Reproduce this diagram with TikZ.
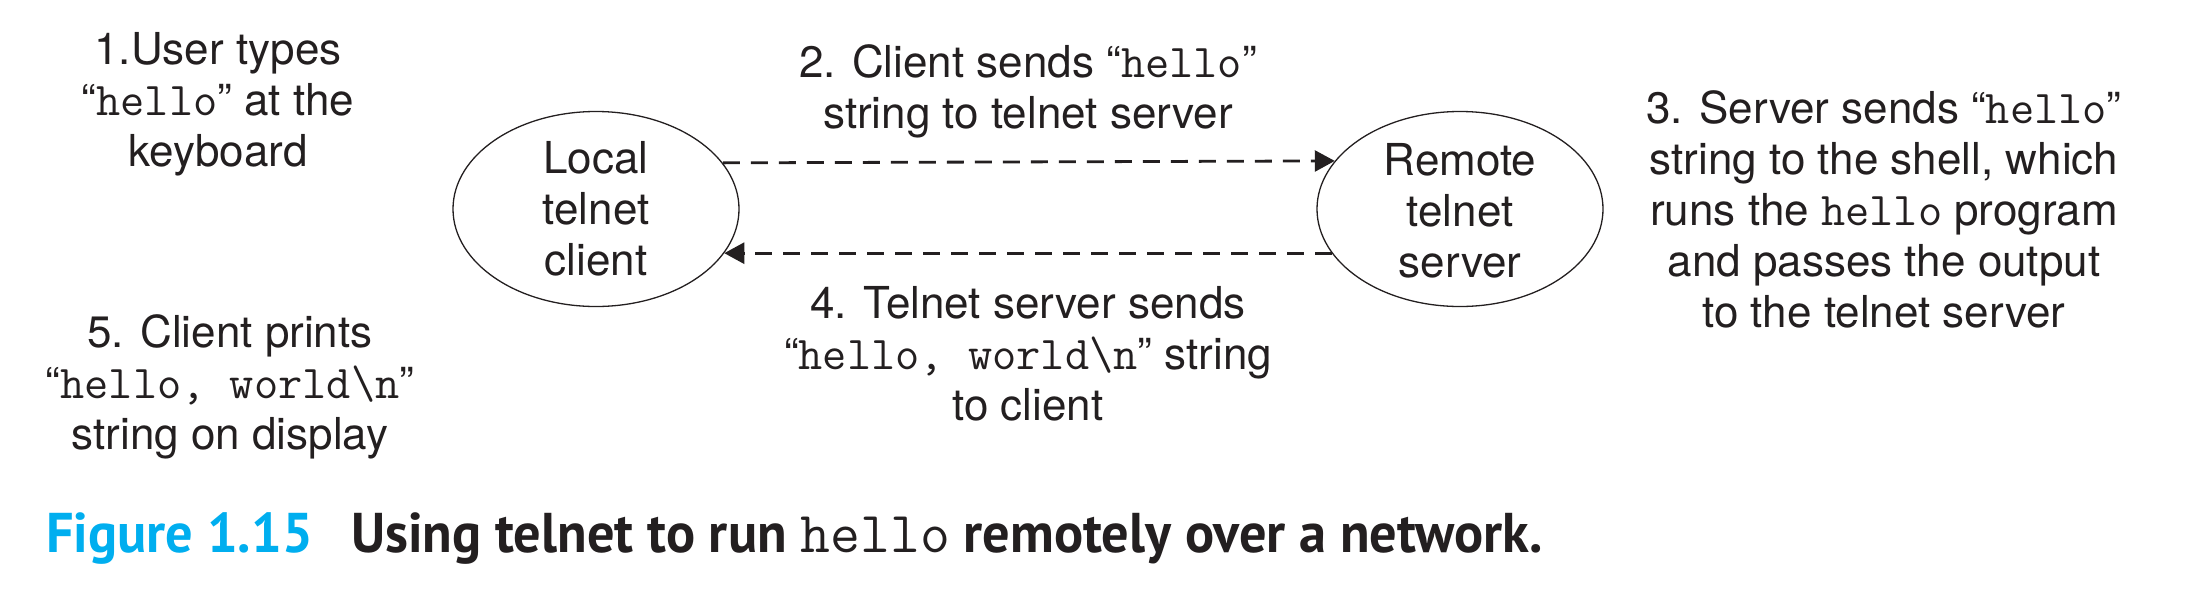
\documentclass[tikz,border=0pt]{standalone}
\usepackage{fontspec}
\setmainfont{TeX Gyre Heros}
\newfontfamily\capfont{PT Sans}[FakeStretch=0.97]
\usetikzlibrary{arrows.meta,shapes.geometric}
\definecolor{ink}{HTML}{231F20}
\definecolor{figcyan}{HTML}{00AEEF}
\newcommand\mono[1]{{\mdseries\ttfamily\fontsize{47}{51}\selectfont #1}}
\newcommand\capmono[1]{{\mdseries\ttfamily\fontsize{58}{60}\selectfont #1}}
\tikzset{
  lbl/.style={align=center, font=\fontsize{44}{51}\selectfont, text=ink, inner sep=0pt},
  host/.style={ellipse, draw=ink, line width=1.3pt, minimum width=286pt, minimum height=195pt, inner sep=0pt},
  msg/.style={draw=ink, line width=2.8pt, dash pattern=on 17pt off 11pt, -{Triangle[length=20pt,width=21pt]}},
  capt/.style={anchor=base west, inner sep=0pt, font=\capfont\bfseries\fontsize{56}{60}\selectfont},
}
\begin{document}
\begin{tikzpicture}[x=1pt,y=-1pt]
\useasboundingbox (0,0) rectangle (2188,592);
% hosts
\node[host] (L) at (596,209) {};
\node[lbl] (Lt) at (L.center) {Local\\telnet\\client};
\node[host] (R) at (1460,209) {};
\node[lbl] (Rt) at ([yshift=-2pt]R.center) {Remote\\telnet\\server};
% messages
\draw[msg] (L.20.6) -- (R.159.4);
\draw[msg] (R.199.5) -- (L.-19.5);
% labels
\node[lbl] (t1) at (218,104.5) {1.User types\\“\mono{hello}” at the\\keyboard};
\node[lbl] (t2) at (1028,91.5) {2. Client sends “\mono{hello}”\\string to telnet server};
\node[lbl] (t3) at (1884,209) {3. Server sends “\mono{hello}”\\string to the shell, which\\runs the \mono{hello} program\\and passes the output\\to the telnet server};
\node[lbl] (t4) at (1028,354) {4. Telnet server sends\\“\mono{hello, world\textbackslash n}” string\\to client};
\node[lbl] (t5) at (230,386.5) {5. Client prints\\“\mono{hello, world\textbackslash n}”\\string on display};
% caption
\node[capt, text=figcyan] (fig) at (46,552) {Figure 1.15};
\node[capt, text=ink] (cap) at (351,552) {Using telnet to run \capmono{hello} remotely over a network.};
\end{tikzpicture}
\end{document}
